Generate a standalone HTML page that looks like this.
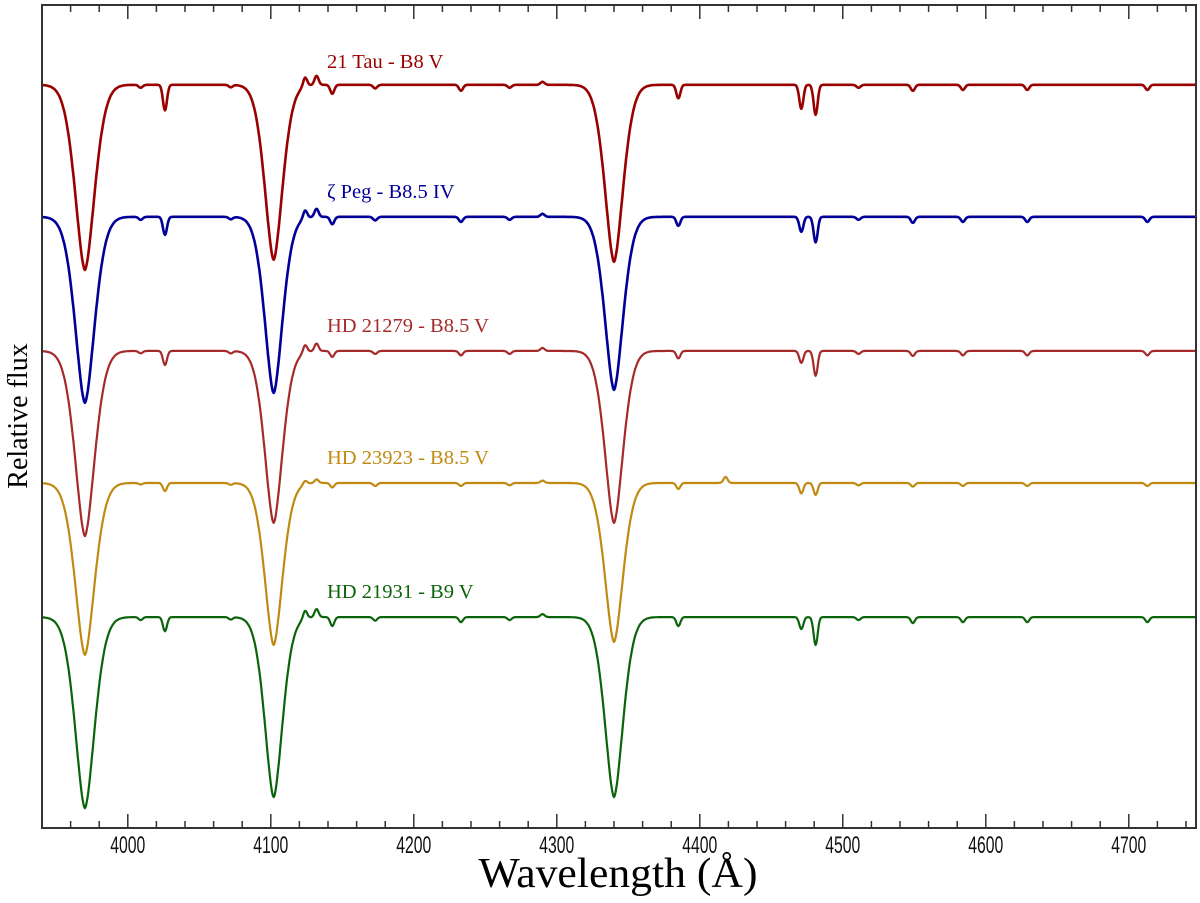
<!DOCTYPE html>
<html><head><meta charset="utf-8"><style>
body{margin:0;background:#fff;}
svg{display:block;}
</style></head><body>
<svg id="chart" width="1200" height="903" xmlns="http://www.w3.org/2000/svg">
<rect x="0" y="0" width="1200" height="903" fill="#fff"/>
<g id="series"></g>
<g id="axes"></g>
<text x="618" y="887" text-anchor="middle" font-family="Liberation Serif, serif" font-size="42" fill="#000" textLength="279" lengthAdjust="spacingAndGlyphs">Wavelength (Å)</text>
<text transform="translate(27,416) rotate(-90)" text-anchor="middle" font-family="Liberation Serif, serif" font-size="28" fill="#000">Relative flux</text>
</svg>
<script>
const starNames = ["21 Tau - B8 V","ζ Peg - B8.5 IV","HD 21279 - B8.5 V","HD 23923 - B8.5 V","HD 21931 - B9 V"];
const starColors = ["#990000","#000099","#a52a2a","#c08a12","#0a640a"];
const continuumLevels = [2.477, 2.037, 1.590, 1.150, 0.703];
const balmerCenters = [3970, 4102, 4340];
const balmerWidths = [9.8, 9.0, 9.2];
const balmerDepths = [
  [0.617, 0.583, 0.59],
  [0.62, 0.587, 0.577],
  [0.617, 0.573, 0.573],
  [0.573, 0.54, 0.53],
  [0.637, 0.60, 0.60]
];
const weakCenters = [4009, 4026, 4072, 4124, 4132, 4143, 4173, 4233, 4267, 4290, 4385, 4418, 4471, 4481, 4511, 4549, 4584, 4629, 4713];
const weakDepths = [
  [0.01, 0.085, 0.008, -0.03, -0.03, 0.03, 0.012, 0.02, 0.01, -0.01, 0.045, 0.0, 0.08, 0.1, 0.01, 0.02, 0.017, 0.017, 0.017],
  [0.01, 0.06, 0.008, -0.027, -0.027, 0.025, 0.012, 0.017, 0.01, -0.01, 0.03, 0.0, 0.05, 0.085, 0.01, 0.02, 0.017, 0.017, 0.017],
  [0.008, 0.047, 0.008, -0.025, -0.025, 0.02, 0.01, 0.015, 0.01, -0.01, 0.025, 0.0, 0.04, 0.083, 0.01, 0.017, 0.015, 0.015, 0.015],
  [0.005, 0.027, 0.006, -0.012, -0.012, 0.015, 0.01, 0.01, 0.008, -0.008, 0.02, -0.02, 0.035, 0.04, 0.008, 0.012, 0.01, 0.01, 0.01],
  [0.01, 0.047, 0.008, -0.027, -0.027, 0.03, 0.012, 0.017, 0.01, -0.01, 0.03, 0.0, 0.04, 0.093, 0.01, 0.02, 0.017, 0.017, 0.017]
];
const xTicks = [4000, 4100, 4200, 4300, 4400, 4500, 4600, 4700];
const xMin = 3940, xMax = 4747, yMin = 0, yMax = 2.743;
const L = 42, R = 1196, T = 5, B = 828;
function xs(v){ return L + (v - xMin) / (xMax - xMin) * (R - L); }
function ys(v){ return B - (v - yMin) / (yMax - yMin) * (B - T); }
const NS = "http://www.w3.org/2000/svg";
function mk(tag, attrs){ const e = document.createElementNS(NS, tag); for (const k in attrs) e.setAttribute(k, attrs[k]); return e; }
const series = document.getElementById('series');
const labelY = [68, 198, 332, 464, 598];
starNames.forEach((name, i) => {
  let d = "";
  for (let w = xMin; w <= xMax; w += 0.5) {
    let f = 1;
    balmerCenters.forEach((c, j) => { const a = Math.abs(w - c) / balmerWidths[j]; f -= balmerDepths[i][j] * Math.exp(-Math.pow(a, 1.7)); });
    weakCenters.forEach((c, j) => { const a = (w - c) / 2.0; f -= weakDepths[i][j] * Math.exp(-a * a); });
    const y = continuumLevels[i] + (f - 1);
    d += (d ? "L" : "M") + xs(w).toFixed(1) + "," + ys(y).toFixed(1);
  }
  const p = mk('path', {d: d, fill: 'none', stroke: starColors[i], 'stroke-width': i < 2 ? 2.6 : 2.2, 'stroke-linejoin': 'round'});
  
  
  series.appendChild(p);
  const t = mk('text', {x: 327, y: labelY[i], 'font-family': 'Liberation Serif, serif', 'font-size': 20.5, fill: starColors[i]});
  t.textContent = name;
  
  
  series.appendChild(t);
});
const axes = document.getElementById('axes');
const frame = mk('rect', {x: L, y: T, width: R - L, height: B - T, fill: 'none', stroke: '#333', 'stroke-width': 2});


axes.appendChild(frame);
for (let v = 3940; v <= xMax; v += 20) {
  const major = v % 100 === 0;
  const len = major ? 14 : 7;
  const x = xs(v);
  const b = mk('line', {x1: x, x2: x, y1: B, y2: B - len, stroke: '#333', 'stroke-width': 1.5});
  
  
  axes.appendChild(b);
  const t = mk('line', {x1: x, x2: x, y1: T, y2: T + len, stroke: '#333', 'stroke-width': 1.5});
  
  
  axes.appendChild(t);
}
xTicks.forEach(v => {
  const t = mk('text', {x: xs(v), y: 853, 'text-anchor': 'middle', 'font-family': 'Liberation Sans, sans-serif', 'font-size': 24, fill: '#111', textLength: 35, lengthAdjust: 'spacingAndGlyphs'});
  t.textContent = v;
  
  
  axes.appendChild(t);
});
</script>
</body></html>
